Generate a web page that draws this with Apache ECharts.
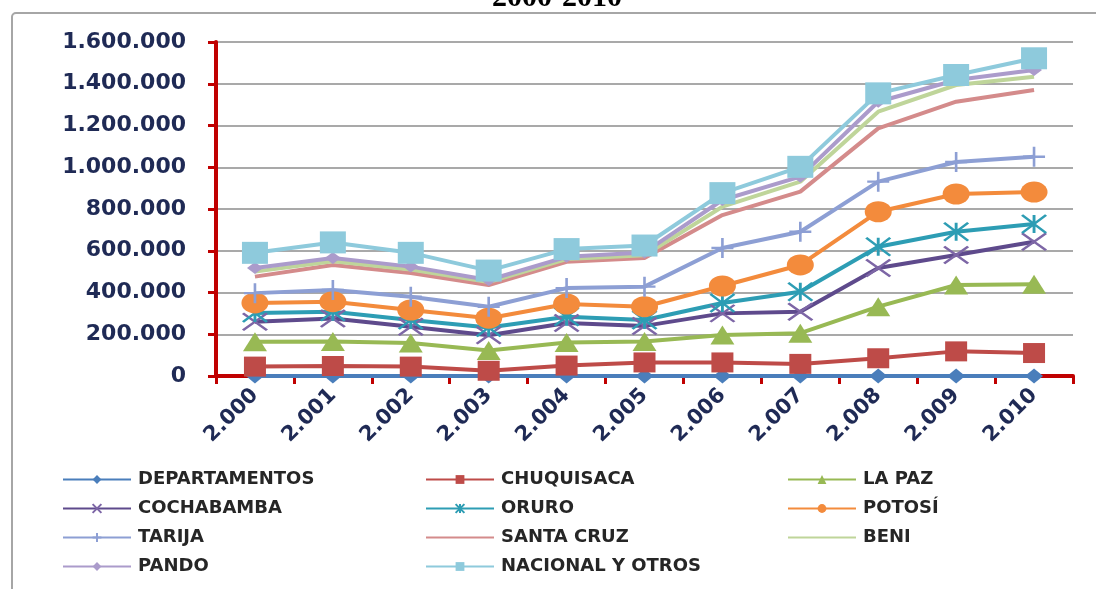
<!DOCTYPE html>
<html>
<head>
<meta charset="utf-8">
<script src="https://cdn.jsdelivr.net/npm/echarts@6/dist/echarts.min.js"></script>
<style>
html,body{margin:0;padding:0;background:#fff;}
#c{width:1096px;height:589px;}
</style>
</head>
<body>
<div id="c"></div>
<script>
var years = ['2.000','2.001','2.002','2.003','2.004','2.005','2.006','2.007','2.008','2.009','2.010'];
var yTicks = [0, 200000, 400000, 600000, 800000, 1000000, 1200000, 1400000, 1600000];

var departamentos = [0,0,0,0,0,0,0,0,0,0,0];
var chuquisaca   = [45000,48000,45000,25000,50000,65000,65000,58000,85000,118000,110000];
var laPaz        = [164000,165000,158000,122000,160000,165000,196000,205000,332000,436000,440000];
var cochabamba   = [260000,275000,236000,195000,254000,240000,300000,308000,517000,580000,643000];
var oruro        = [302000,308000,268000,232000,284000,268000,350000,404000,619000,691000,728000];
var potosi       = [350000,356000,316000,277000,345000,332000,431000,532000,787000,872000,881000];
var tarija       = [397000,412000,380000,332000,421000,428000,613000,691000,931000,1025000,1050000];
var santaCruz    = [476000,532000,493000,436000,547000,565000,771000,883000,1186000,1314000,1370000];
var beni         = [500000,550000,510000,450000,560000,578000,811000,931000,1266000,1394000,1434000];
var pando        = [517000,565000,524000,460000,571000,592000,843000,955000,1314000,1418000,1466000];
var nacional     = [590000,640000,590000,505000,608000,625000,876000,1002000,1354000,1442000,1522000];

var seriesNames = ['DEPARTAMENTOS','CHUQUISACA','LA PAZ','COCHABAMBA','ORURO','POTOSÍ','TARIJA','SANTA CRUZ','BENI','PANDO','NACIONAL Y OTROS'];

function fmt(v){ return String(v).replace(/\B(?=(\d{3})+(?!\d))/g,'.'); }

var X_PATH = 'path://M0 0L10 10M10 0L0 10';
var AST_PATH = 'path://M0 0L10 10M10 0L0 10M5 0L5 10';
var PLUS_PATH = 'path://M0 5L10 5M5 0L5 10';
var HIDDEN_PATH = 'path://M0 0L10 10';

function mk(name, data, color, lineColor, symbol, size, stroke){
  var s = {
    name: name, type: 'line', data: data,
    symbol: symbol, symbolSize: size,
    lineStyle: {color: lineColor, width: 4},
    itemStyle: {color: color, borderWidth: 0},
    emphasis: {disabled: true},
    animation: false
  };
  if (stroke) {
    s.itemStyle = {color: color, borderColor: color, borderWidth: 2.5};
  }
  return s;
}

var series = [
  mk(seriesNames[0], departamentos, '#4a7ebb', '#4a7ebb', 'diamond', [18,15]),
  mk(seriesNames[1], chuquisaca, '#be4b48', '#be4b48', 'rect', [22,20]),
  mk(seriesNames[2], laPaz, '#98b954', '#98b954', 'triangle', [24,19]),
  mk(seriesNames[3], cochabamba, '#7d66a6', '#5e4a8c', X_PATH, [24,17], true),
  mk(seriesNames[4], oruro, '#2d9db4', '#2d9db4', AST_PATH, [24,18], true),
  mk(seriesNames[5], potosi, '#f38b3c', '#f38b3c', 'circle', [27,21]),
  mk(seriesNames[6], tarija, '#8d9fd4', '#8d9fd4', PLUS_PATH, [22,20], true),
  mk(seriesNames[7], santaCruz, '#d48b8b', '#d48b8b', HIDDEN_PATH, 8),
  mk(seriesNames[8], beni, '#bfd59a', '#bfd59a', HIDDEN_PATH, 8),
  mk(seriesNames[9], pando, '#ab9bcb', '#ab9bcb', 'diamond', [16,12]),
  mk(seriesNames[10], nacional, '#8ecadc', '#8ecadc', 'rect', [26,22])
];

function legend(left, names){
  return {
    orient: 'vertical', left: left, top: 465, padding: 0, itemGap: 0,
    itemWidth: 68, itemHeight: 11,
    data: names,
    selectedMode: false,
    textStyle: {fontFamily: 'DejaVu Sans', fontWeight: 'bold', fontSize: 18, color: '#262626', lineHeight: 29, padding: [0,0,0,2]}
  };
}

var chart = echarts.init(document.getElementById('c'), null, {renderer: 'canvas'});
chart.setOption({
  backgroundColor: '#ffffff',
  animation: false,
  graphic: [
    {type: 'rect', shape: {x: 12, y: 13, width: 1120, height: 600, r: 4}, style: {fill: 'none', stroke: '#a6a6a6', lineWidth: 2}, z: -10},
    {type: 'text', x: 557, y: 13, style: {text: '2000-2010', font: 'bold 30px "Liberation Serif"', fill: '#000', textAlign: 'center', textVerticalAlign: 'bottom'}}
  ],
  grid: {left: 216, right: 23, top: 42, bottom: 213, containLabel: false},
  legend: [
    legend(62, [seriesNames[0], seriesNames[3], seriesNames[6], seriesNames[9]]),
    legend(425, [seriesNames[1], seriesNames[4], seriesNames[7], seriesNames[10]]),
    legend(787, [seriesNames[2], seriesNames[5], seriesNames[8]])
  ],
  xAxis: {
    type: 'category', data: years, boundaryGap: true,
    axisLine: {lineStyle: {color: '#c00000', width: 4}},
    axisTick: {show: true, length: 8, lineStyle: {color: '#c00000', width: 3}, alignWithLabel: false},
    axisLabel: {rotate: 45, margin: 16, color: '#1f2a55', fontFamily: 'DejaVu Sans', fontWeight: 'bold', fontSize: 21, interval: 0},
    splitLine: {show: false}
  },
  yAxis: {
    type: 'value', min: yTicks[0], max: yTicks[yTicks.length-1], interval: yTicks[1]-yTicks[0],
    axisLine: {show: true, lineStyle: {color: '#c00000', width: 4}},
    axisTick: {show: true, length: 8, lineStyle: {color: '#c00000', width: 3}},
    axisLabel: {margin: 30, color: '#1f2a55', fontFamily: 'DejaVu Sans', fontWeight: 'bold', fontSize: 22, formatter: fmt},
    splitLine: {show: true, lineStyle: {color: '#8c8c8c', width: 1.5}}
  },
  series: series
});
</script>
</body>
</html>
